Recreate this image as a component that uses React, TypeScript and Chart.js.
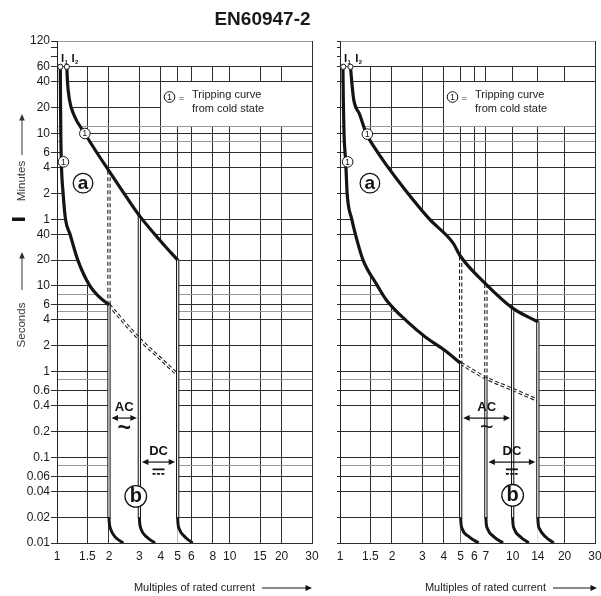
import React, { useEffect, useRef } from "react";
import { Chart, registerables } from "chart.js";

Chart.register(...registerables);

const FONT = '"Liberation Sans", Arial, Helvetica, sans-serif';
Chart.defaults.font.family = FONT;

// ---------- axes ----------
// y axis: tripping time in seconds (120 min at the top, 0.01 s at the bottom)
const yGridSeconds = [7200, 6000, 4800, 3600, 2400, 1200, 720, 600, 480, 360, 240, 120, 60, 40, 20, 10, 8, 6, 5, 4, 2, 1, 0.8, 0.6, 0.4, 0.2, 0.1, 0.08, 0.06, 0.04, 0.02, 0.01];
const yLabelSeconds = [7200, 3600, 2400, 1200, 600, 360, 240, 120, 60, 40, 20, 10, 6, 4, 2, 1, 0.6, 0.4, 0.2, 0.1, 0.06, 0.04, 0.02, 0.01];
const yLabelTexts = ["120", "60", "40", "20", "10", "6", "4", "2", "1", "40", "20", "10", "6", "4", "2", "1", "0.6", "0.4", "0.2", "0.1", "0.06", "0.04", "0.02", "0.01"];
const yMinorTickSeconds = [6000, 4800];
const yLightGridSeconds = [7200, 720, 480, 8, 5, 0.8, 0.08];

// x axis: multiples of rated current
const leftXTicks = [1, 1.5, 2, 3, 4, 5, 6, 8, 10, 15, 20, 30];
const rightXTicks = [1, 1.5, 2, 3, 4, 5, 6, 7, 10, 14, 20, 30];

const iLevelSeconds = 3600; // I1 / I2 start level (60 min)
const tailY = [0.02, 0.017, 0.0147, 0.0118, 0.01];

// ---------- left panel ----------
const leftLowerX = [1.045, 1.048, 1.052, 1.06, 1.085, 1.12, 1.19, 1.32, 1.55, 1.75, 2];
const leftLowerY = [3600, 1500, 600, 270, 120, 60, 40, 20, 10, 7.5, 6];
const leftUpperX = [1.14, 1.15, 1.18, 1.25, 1.45, 1.7, 2, 2.5, 3, 4, 5];
const leftUpperY = [3600, 2400, 1500, 1000, 600, 360, 220, 112, 66, 33, 20];
const leftDashX = [2, 3, 4, 5];
const leftDashY = [6, 2.4, 1.4, 0.92];
const leftDashedVertX = [2];
const leftDashedVertTop = [220];
const leftDashedVertBottom = [6];
const leftSolidVertX = [2, 3, 5];
const leftSolidVertTop = [6, 66, 20];
const leftTailsX = [
  [2, 2.01, 2.04, 2.17, 2.42],
  [3, 3.015, 3.06, 3.3, 3.7],
  [5, 5.02, 5.1, 5.5, 6.1],
];
const leftIX = [1.045, 1.14];

// ---------- right panel ----------
const rightLowerX = [1.04, 1.045, 1.055, 1.08, 1.1, 1.17, 1.25, 1.36, 1.65, 1.85, 2.5, 3.15, 4, 5];
const rightLowerY = [3600, 1500, 600, 270, 120, 60, 35, 20, 10, 6.9, 3.7, 2.5, 1.8, 1.25];
const rightUpperX = [1.15, 1.17, 1.2, 1.3, 1.42, 1.6, 1.85, 2.4, 3.3, 4.5, 5, 7, 10, 14];
const rightUpperY = [3600, 2400, 1500, 1000, 600, 400, 260, 130, 60, 32, 22, 10.5, 5.5, 3.8];
const rightDashX = [5, 7, 10, 14];
const rightDashY = [1.25, 0.84, 0.62, 0.46];
const rightDashedVertX = [5, 7];
const rightDashedVertTop = [22, 10.5];
const rightDashedVertBottom = [1.25, 0.84];
const rightSolidVertX = [5, 7, 10, 14];
const rightSolidVertTop = [1.25, 0.84, 5.5, 3.8];
const rightTailsX = [
  [5, 5.02, 5.1, 5.6, 6.35],
  [7, 7.03, 7.15, 7.8, 8.8],
  [10, 10.04, 10.2, 11.1, 12.4],
  [14, 14.05, 14.3, 15.5, 17.3],
];
const rightIX = [1.045, 1.15];

type PanelData = {
  xTicks: number[];
  lowerX: number[]; lowerY: number[];
  upperX: number[]; upperY: number[];
  dashX: number[]; dashY: number[];
  dashedVertX: number[]; dashedVertTop: number[]; dashedVertBottom: number[];
  solidVertX: number[]; solidVertTop: number[];
  tailsX: number[][];
  iX: number[];
  // annotation anchors (data coordinates)
  coldX: number[]; coldY: number[];
  zoneA: number[]; zoneB: number[];
  acBand: number[]; dcBand: number[];
};

const leftPanel: PanelData = {
  xTicks: leftXTicks,
  lowerX: leftLowerX, lowerY: leftLowerY,
  upperX: leftUpperX, upperY: leftUpperY,
  dashX: leftDashX, dashY: leftDashY,
  dashedVertX: leftDashedVertX, dashedVertTop: leftDashedVertTop, dashedVertBottom: leftDashedVertBottom,
  solidVertX: leftSolidVertX, solidVertTop: leftSolidVertTop,
  tailsX: leftTailsX,
  iX: leftIX,
  coldX: [1.09, 1.45], coldY: [280, 600],
  zoneA: [1.415, 158], zoneB: [2.86, 0.035],
  acBand: [2, 3], dcBand: [3, 5],
};

const rightPanel: PanelData = {
  xTicks: rightXTicks,
  lowerX: rightLowerX, lowerY: rightLowerY,
  upperX: rightUpperX, upperY: rightUpperY,
  dashX: rightDashX, dashY: rightDashY,
  dashedVertX: rightDashedVertX, dashedVertTop: rightDashedVertTop, dashedVertBottom: rightDashedVertBottom,
  solidVertX: rightSolidVertX, solidVertTop: rightSolidVertTop,
  tailsX: rightTailsX,
  iX: rightIX,
  coldX: [1.107, 1.44], coldY: [280, 590],
  zoneA: [1.49, 158], zoneB: [10, 0.036],
  acBand: [5, 10], dcBand: [7, 14],
};

// label anchors (seconds)
const legendBoxX = [4, 30];
const legendBoxY = [2400, 720];
const acTextY = 0.385, acArrowY = 0.287, acWaveY = 0.215;
const dcTextY = 0.116, dcArrowY = 0.088, dcSymY = 0.068;

const INK = "#141414";

const pts = (xs: number[], ys: number[]) => xs.map((x, i) => ({ x, y: ys[i] }));

const BASE: any = {
  type: "line",
  pointRadius: 0,
  pointHoverRadius: 0,
  fill: false,
  tension: 0,
  borderCapStyle: "butt",
  borderJoinStyle: "round",
};

function buildDatasets(p: PanelData) {
  const list: any[] = [];
  const dbl = (label: string, data: any[], dashed: boolean, mono: boolean) => {
    const mode = mono ? "monotone" : "default";
    list.push({ ...BASE, label, data, borderColor: INK, borderWidth: 3.3, borderDash: dashed ? [4, 2.5] : [], cubicInterpolationMode: mode });
    list.push({ ...BASE, label: label + " inner", data, borderColor: "#ffffff", borderWidth: 1.2, cubicInterpolationMode: mode });
  };
  dbl("dash curve", pts(p.dashX, p.dashY), true, true);
  p.dashedVertX.forEach((x, i) =>
    dbl("dashed band " + x, [{ x, y: p.dashedVertTop[i] }, { x, y: p.dashedVertBottom[i] }], true, false)
  );
  p.solidVertX.forEach((x, i) =>
    dbl("band " + x, [{ x, y: p.solidVertTop[i] }, { x, y: tailY[0] }], false, false)
  );
  p.tailsX.forEach((xs, i) =>
    list.push({ ...BASE, label: "tail " + i, data: pts(xs, tailY), borderColor: INK, borderWidth: 3, cubicInterpolationMode: "monotone" })
  );
  list.push({ ...BASE, label: "lower", data: pts(p.lowerX, p.lowerY), borderColor: INK, borderWidth: 3.2, cubicInterpolationMode: "monotone" });
  list.push({ ...BASE, label: "upper", data: pts(p.upperX, p.upperY), borderColor: INK, borderWidth: 3.2, cubicInterpolationMode: "monotone" });
  list.push({
    ...BASE,
    label: "I1 I2",
    data: p.iX.map((x) => ({ x, y: iLevelSeconds })),
    showLine: false,
    pointRadius: 2.6,
    pointBackgroundColor: "#ffffff",
    pointBorderColor: INK,
    pointBorderWidth: 1,
  });
  return list.map((d, i) => ({ ...d, order: 1000 - i }));
}

function circleLabel(ctx: CanvasRenderingContext2D, x: number, y: number, r: number, text: string, font: string, lw: number) {
  ctx.beginPath();
  ctx.arc(x, y, r, 0, Math.PI * 2);
  ctx.fillStyle = "#ffffff";
  ctx.fill();
  ctx.lineWidth = lw;
  ctx.strokeStyle = INK;
  ctx.stroke();
  ctx.fillStyle = INK;
  ctx.font = font;
  ctx.textAlign = "center";
  ctx.textBaseline = "middle";
  ctx.fillText(text, x, y + 0.5);
}

function hArrow(ctx: CanvasRenderingContext2D, x1: number, x2: number, y: number, both: boolean) {
  ctx.strokeStyle = INK;
  ctx.fillStyle = INK;
  ctx.lineWidth = 1.2;
  ctx.beginPath();
  ctx.moveTo(both ? x1 + 4 : x1, y);
  ctx.lineTo(x2 - 4, y);
  ctx.stroke();
  ctx.beginPath();
  ctx.moveTo(x2, y);
  ctx.lineTo(x2 - 6.5, y - 3);
  ctx.lineTo(x2 - 6.5, y + 3);
  ctx.closePath();
  ctx.fill();
  if (both) {
    ctx.beginPath();
    ctx.moveTo(x1, y);
    ctx.lineTo(x1 + 6.5, y - 3);
    ctx.lineTo(x1 + 6.5, y + 3);
    ctx.closePath();
    ctx.fill();
  }
}

function vArrowUp(ctx: CanvasRenderingContext2D, x: number, y1: number, y2: number) {
  ctx.strokeStyle = "#333";
  ctx.fillStyle = "#333";
  ctx.lineWidth = 1;
  ctx.beginPath();
  ctx.moveTo(x, y1);
  ctx.lineTo(x, y2 + 4);
  ctx.stroke();
  ctx.beginPath();
  ctx.moveTo(x, y2);
  ctx.lineTo(x - 2.8, y2 + 6.5);
  ctx.lineTo(x + 2.8, y2 + 6.5);
  ctx.closePath();
  ctx.fill();
}

function makePlugin(p: PanelData, isLeft: boolean) {
  return {
    id: isLeft ? "leftDecor" : "rightDecor",
    beforeDatasetsDraw(chart: any) {
      const { ctx, chartArea: ca } = chart;
      const X = chart.scales.x;
      const Y = chart.scales.y;
      const px = (v: number) => X.getPixelForValue(v);
      const py = (v: number) => Y.getPixelForValue(v);
      const al = (v: number) => Math.round(v - 0.5);
      ctx.save();
      ctx.beginPath();
      ctx.rect(ca.left, ca.top, ca.right - ca.left, ca.bottom - ca.top);
      ctx.clip();
      ctx.fillStyle = "#ffffff";
      const l = al(ca.left) + 1;
      const r = al(ca.right);
      // strip above 60 min
      ctx.fillRect(l, al(ca.top) + 1, r - l, al(py(iLevelSeconds)) - al(ca.top) - 1);
      // legend box
      const bl = al(px(legendBoxX[0])) + 1;
      const bt = al(py(legendBoxY[0])) + 1;
      const bb = al(py(legendBoxY[1]));
      ctx.fillRect(bl, bt, al(px(legendBoxX[1])) - bl, bb - bt);
      // area between the curves (no grid)
      const find = (label: string) => chart.data.datasets.findIndex((d: any) => d.label === label);
      const lm = chart.getDatasetMeta(find("lower"));
      const um = chart.getDatasetMeta(find("upper"));
      lm.dataset.updateControlPoints(ca, "x");
      um.dataset.updateControlPoints(ca, "x");
      const L = lm.data;
      const U = um.data;
      const fwd = (a: any, b: any) => {
        if (a.cp2x !== undefined && b.cp1x !== undefined) ctx.bezierCurveTo(a.cp2x, a.cp2y, b.cp1x, b.cp1y, b.x, b.y);
        else ctx.lineTo(b.x, b.y);
      };
      const back = (b: any, a: any) => {
        if (a.cp2x !== undefined && b.cp1x !== undefined) ctx.bezierCurveTo(b.cp1x, b.cp1y, a.cp2x, a.cp2y, a.x, a.y);
        else ctx.lineTo(a.x, a.y);
      };
      ctx.beginPath();
      ctx.moveTo(L[0].x, L[0].y);
      for (let i = 1; i < L.length; i++) fwd(L[i - 1], L[i]);
      ctx.lineTo(L[L.length - 1].x, ca.bottom);
      ctx.lineTo(U[U.length - 1].x, ca.bottom);
      ctx.lineTo(U[U.length - 1].x, U[U.length - 1].y);
      for (let i = U.length - 1; i > 0; i--) back(U[i], U[i - 1]);
      ctx.closePath();
      ctx.fill();
      ctx.restore();
    },
    afterDatasetsDraw(chart: any) {
      const { ctx } = chart;
      const X = chart.scales.x;
      const Y = chart.scales.y;
      const px = (v: number) => X.getPixelForValue(v);
      const py = (v: number) => Y.getPixelForValue(v);
      const al = (v: number) => Math.round(v - 0.5);
      ctx.save();
      // cold-state markers
      p.coldX.forEach((x, i) => circleLabel(ctx, px(x), py(p.coldY[i]), 5.3, "1", `9px ${FONT}`, 1));
      // zone labels
      circleLabel(ctx, px(p.zoneA[0]), py(p.zoneA[1]), 9.8, "a", `bold 19px ${FONT}`, 1.3);
      // AC
      const acL = px(p.acBand[0]);
      const acR = px(p.acBand[1]);
      const acM = (acL + acR) / 2;
      ctx.fillStyle = INK;
      ctx.font = `bold 13px ${FONT}`;
      ctx.textAlign = "center";
      ctx.textBaseline = "middle";
      ctx.fillText("AC", acM, py(acTextY));
      hArrow(ctx, acL + 2.5, acR - 2.5, py(acArrowY), true);
      ctx.font = `${isLeft ? "bold " : ""}23px ${FONT}`;
      ctx.fillText("~", acM, py(acWaveY));
      // DC
      const dcL = px(p.dcBand[0]);
      const dcR = px(p.dcBand[1]);
      const dcM = (dcL + dcR) / 2;
      ctx.font = `bold 13px ${FONT}`;
      ctx.fillText("DC", dcM, py(dcTextY));
      hArrow(ctx, dcL + 2.5, dcR - 2.5, py(dcArrowY), true);
      const sy = py(dcSymY);
      ctx.strokeStyle = INK;
      ctx.lineWidth = 1.8;
      ctx.beginPath();
      ctx.moveTo(dcM - 6, sy - 2.3);
      ctx.lineTo(dcM + 6, sy - 2.3);
      ctx.stroke();
      ctx.beginPath();
      for (let k = 0; k < 3; k++) {
        ctx.moveTo(dcM - 6 + k * 4.4, sy + 2.3);
        ctx.lineTo(dcM - 6 + k * 4.4 + 3, sy + 2.3);
      }
      ctx.stroke();
      circleLabel(ctx, px(p.zoneB[0]), py(p.zoneB[1]), 10.8, "b", `bold 20px ${FONT}`, 1.3);
      // I1 / I2
      const iy = py(iLevelSeconds) - 4.5;
      const offs = [0.8, 4.8];
      p.iX.forEach((x, i) => {
        const lx = px(x) + offs[i];
        ctx.fillStyle = INK;
        ctx.textAlign = "left";
        ctx.textBaseline = "alphabetic";
        ctx.font = `bold 11.5px ${FONT}`;
        ctx.fillText("I", lx, iy);
        ctx.font = `bold 6px ${FONT}`;
        ctx.fillText(String(i + 1), lx + 3.4, iy + 1.5);
      });
      // legend
      const bx = al(px(legendBoxX[0])) + 1;
      const bt = al(py(legendBoxY[0]));
      circleLabel(ctx, bx + 8.5, bt + 16, 5.3, "1", `9px ${FONT}`, 1);
      ctx.fillStyle = "#222";
      ctx.font = `9px ${FONT}`;
      ctx.textAlign = "center";
      ctx.textBaseline = "middle";
      ctx.fillText("=", bx + 20.5, bt + 17.5);
      ctx.font = `11px ${FONT}`;
      ctx.textAlign = "left";
      ctx.fillText("Tripping curve", bx + 31, bt + 13.5);
      ctx.fillText("from cold state", bx + 31, bt + 28);
      ctx.restore();
    },
    afterDraw(chart: any) {
      const { ctx, chartArea: ca } = chart;
      const Y = chart.scales.y;
      const py = (v: number) => Y.getPixelForValue(v);
      ctx.save();
      // bottom caption with arrow
      ctx.fillStyle = "#222";
      ctx.font = `11px ${FONT}`;
      ctx.textAlign = "right";
      ctx.textBaseline = "middle";
      const capY = 588;
      const textEnd = isLeft ? ca.right - 57 : ca.right - 49;
      const arrowStart = isLeft ? ca.right - 50 : ca.right - 42;
      const arrowEnd = isLeft ? ca.right : ca.right + 2;
      ctx.fillText("Multiples of rated current", textEnd, capY);
      hArrow(ctx, arrowStart, arrowEnd, capY, false);
      if (isLeft) {
        // title
        ctx.fillStyle = "#1a1a1a";
        ctx.font = `bold 19px ${FONT}`;
        ctx.textAlign = "center";
        ctx.textBaseline = "middle";
        ctx.fillText("EN60947-2", 262.5, 20);
        // side labels
        const sx = 22;
        ctx.fillStyle = "#3a3a3a";
        ctx.font = `11.5px ${FONT}`;
        ctx.save();
        ctx.translate(sx, ca.top + 140);
        ctx.rotate(-Math.PI / 2);
        ctx.fillText("Minutes", 0, 0);
        ctx.restore();
        ctx.save();
        ctx.translate(sx, ca.top + 284);
        ctx.rotate(-Math.PI / 2);
        ctx.fillText("Seconds", 0, 0);
        ctx.restore();
        vArrowUp(ctx, sx, ca.top + 114, ca.top + 73);
        vArrowUp(ctx, sx, ca.top + 249, ca.top + 211);
        ctx.fillStyle = INK;
        ctx.fillRect(12, Math.round(py(60)) - 1.5, 13, 3.5);
      }
      ctx.restore();
    },
  };
}

function makeOptions(p: PanelData, isLeft: boolean): any {
  return {
    responsive: false,
    maintainAspectRatio: false,
    animation: false,
    events: [],
    layout: { padding: { top: 41, right: isLeft ? 8 : 15, bottom: 0, left: 0 } },
    plugins: { legend: { display: false }, tooltip: { enabled: false }, title: { display: false } },
    scales: {
      x: {
        type: "logarithmic",
        min: 1,
        max: 30,
        position: "bottom",
        afterBuildTicks: (s: any) => {
          s.ticks = p.xTicks.map((v) => ({ value: v }));
        },
        afterFit: (s: any) => {
          s.height = 53;
          s.paddingLeft = 0;
          s.paddingRight = 0;
        },
        ticks: {
          autoSkip: false,
          maxRotation: 0,
          minRotation: 0,
          padding: 6,
          color: "#1a1a1a",
          font: { family: FONT, size: 12 },
          callback: (v: any) => String(v),
        },
        grid: { color: "#2e2e2e", lineWidth: 1, drawTicks: false },
        border: { display: true, color: "#2e2e2e", width: 1 },
      },
      y: {
        type: "logarithmic",
        min: 0.01,
        max: 7200,
        position: "left",
        afterBuildTicks: (s: any) => {
          s.ticks = yGridSeconds.map((v) => ({ value: v }));
        },
        afterFit: (s: any) => {
          s.width = isLeft ? 57 : 20;
          s.paddingTop = 0;
          s.paddingBottom = 0;
        },
        ticks: {
          display: isLeft,
          autoSkip: false,
          padding: 1,
          color: "#1a1a1a",
          font: { family: FONT, size: 12 },
          callback: (v: any) => {
            const i = yLabelSeconds.indexOf(v);
            return i >= 0 ? yLabelTexts[i] : "";
          },
        },
        grid: {
          lineWidth: 1,
          tickLength: isLeft ? 6 : 3,
          color: (c: any) => (c.tick && yLightGridSeconds.includes(c.tick.value) ? "#9a9a9a" : "#2e2e2e"),
          tickColor: (c: any) =>
            c.tick && (yLabelSeconds.includes(c.tick.value) || yMinorTickSeconds.includes(c.tick.value))
              ? "#2e2e2e"
              : "rgba(0,0,0,0)",
        },
        border: { display: true, color: "#222", width: 1 },
      },
    },
  };
}

function makeChart(canvas: HTMLCanvasElement, p: PanelData, isLeft: boolean) {
  return new Chart(canvas, {
    type: "line",
    data: { datasets: buildDatasets(p) },
    options: makeOptions(p, isLeft),
    plugins: [makePlugin(p, isLeft)],
  } as any);
}

export default function App() {
  const leftRef = useRef<HTMLCanvasElement>(null);
  const rightRef = useRef<HTMLCanvasElement>(null);
  useEffect(() => {
    const charts: Chart[] = [];
    if (leftRef.current) charts.push(makeChart(leftRef.current, leftPanel, true));
    if (rightRef.current) charts.push(makeChart(rightRef.current, rightPanel, false));
    return () => charts.forEach((c) => c.destroy());
  }, []);
  return (
    <div style={{ position: "absolute", left: 0, top: 0, width: 601, height: 596, overflow: "hidden", background: "#ffffff" }}>
      <canvas ref={leftRef} width={320} height={596} style={{ position: "absolute", left: 0, top: 0, width: 320, height: 596 }} />
      <canvas ref={rightRef} width={290} height={596} style={{ position: "absolute", left: 320, top: 0, width: 290, height: 596 }} />
    </div>
  );
}
